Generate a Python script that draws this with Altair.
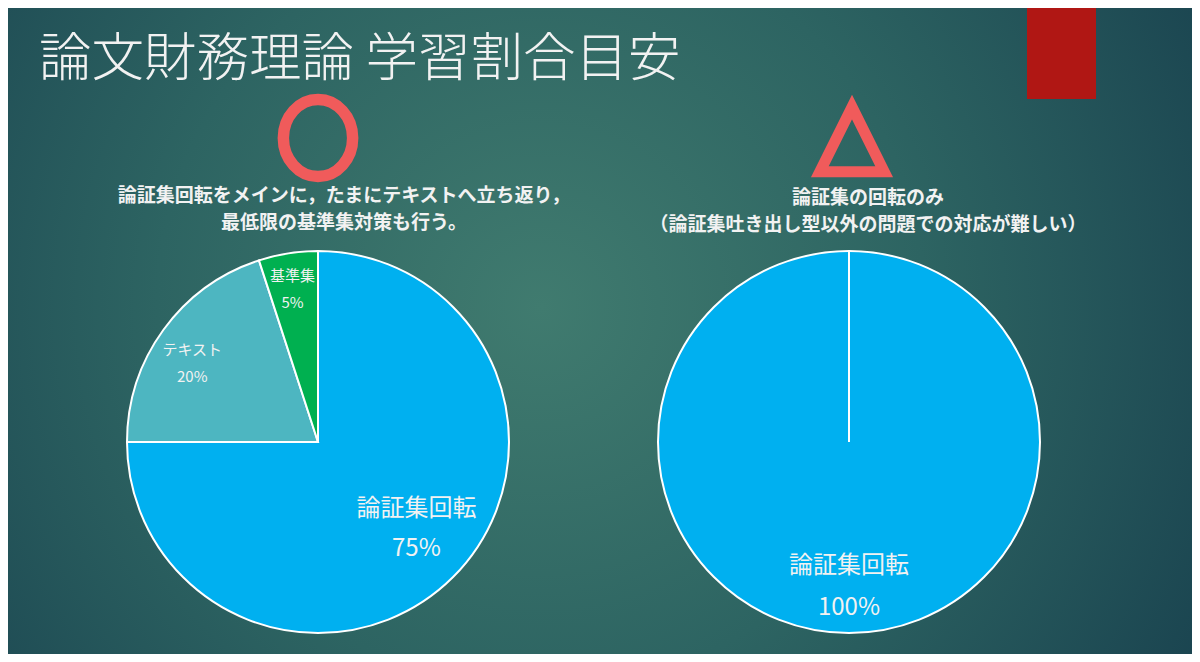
import altair as alt
import pandas as pd

# ---- data ----
left_cats = ["論証集回転", "テキスト", "基準集"]
left_shares = [75, 20, 5]
right_cats = ["論証集回転"]
right_shares = [100]

title_text = "論文財務理論 学習割合目安"
left_note = "論証集回転をメインに，たまにテキストへ立ち返り，\n最低限の基準集対策も行う。"
right_note = "論証集の回転のみ\n（論証集吐き出し型以外の問題での対応が難しい）"

# ---- layout / style ----
W, H = 1184, 646
FONT = "Noto Sans CJK JP"
R = 191
CY = 434
LCX, RCX = 310, 841
TXT = "#F2F2F2"
SYM = "#F05B5B"

color_scale = alt.Scale(domain=["論証集回転", "テキスト", "基準集"],
                        range=["#00B0F0", "#4DB6C1", "#00B050"])

one = pd.DataFrame({"k": [0]})

bg = alt.Chart(one).mark_rect(
    fill={"gradient": "radial",
          "x1": 0.45, "y1": 0.48, "r1": 0,
          "x2": 0.45, "y2": 0.48, "r2": 0.72,
          "stops": [{"offset": 0, "color": "#407B6F"},
                    {"offset": 0.45, "color": "#2D6462"},
                    {"offset": 1, "color": "#153B4B"}]}
).encode(x=alt.value(0), x2=alt.value(W), y=alt.value(0), y2=alt.value(H))

red_box = alt.Chart(one).mark_rect(fill="#B01714").encode(
    x=alt.value(1019), x2=alt.value(1088), y=alt.value(0), y2=alt.value(91))

title = alt.Chart(one).mark_text(
    text=title_text, font=FONT, fontSize=52.5, fontWeight=300, color=TXT,
    align="left", baseline="middle"
).encode(x=alt.value(31), y=alt.value(52))

circle_sym = alt.Chart(one).mark_point(
    shape="M0,-1 A0.9,1 0 1,1 0,1 A0.9,1 0 1,1 0,-1 Z",
    size=5929, filled=False, stroke=SYM, strokeWidth=11.5, opacity=1
).encode(x=alt.value(310), y=alt.value(130))

tri_sym = alt.Chart(one).mark_point(
    shape="M0,-1 L0.92,0.85 L-0.92,0.85 Z",
    size=4900, filled=False, stroke=SYM, strokeWidth=11, opacity=1,
    strokeJoin="miter"
).encode(x=alt.value(844), y=alt.value(134))

note_l = alt.Chart(one).mark_text(
    text=left_note, lineBreak="\n", lineHeight=27, font=FONT, fontSize=19,
    fontWeight="bold", color=TXT, align="center", baseline="middle"
).encode(x=alt.value(336), y=alt.value(188))

note_r = alt.Chart(one).mark_text(
    text=right_note, lineBreak="\n", lineHeight=27, font=FONT, fontSize=19,
    fontWeight="bold", color=TXT, align="center", baseline="middle"
).encode(x=alt.value(860), y=alt.value(190))

left_df = pd.DataFrame({"cat": left_cats, "share": left_shares,
                        "idx": list(range(len(left_cats)))})
right_df = pd.DataFrame({"cat": right_cats, "share": right_shares,
                         "idx": list(range(len(right_cats)))})


def pie(df, cx):
    return alt.Chart(df).mark_arc(
        outerRadius=R, stroke="white", strokeWidth=2
    ).encode(
        theta=alt.Theta("share:Q", stack=True),
        color=alt.Color("cat:N", scale=color_scale, legend=None),
        order=alt.Order("idx:Q"),
        x=alt.value(cx), y=alt.value(CY),
    )


def label(df, cat, cx, radius, size, lh, dx, dy):
    return alt.Chart(df).transform_joinaggregate(
        total="sum(share)"
    ).transform_window(
        cum="sum(share)", sort=[alt.SortField("idx")], frame=[None, 0]
    ).transform_calculate(
        mid="(datum.cum - datum.share / 2) / datum.total * 2 * PI",
        label="datum.cat + '\\n' + datum.share + '%'",
    ).transform_filter(
        alt.datum.cat == cat
    ).mark_text(
        radius=radius, fontSize=size, lineHeight=lh, lineBreak="\n",
        dx=dx, dy=dy, color=TXT, font=FONT, align="center", baseline="middle"
    ).encode(
        x=alt.value(cx), y=alt.value(CY),
        theta=alt.Theta("mid:Q", scale=None),
        text="label:N",
    )


right_line = alt.Chart(one).mark_rule(color="white", strokeWidth=2).encode(
    x=alt.value(RCX), y=alt.value(CY - R), y2=alt.value(CY))

chart = alt.layer(
    bg, red_box, title, circle_sym, tri_sym, note_l, note_r,
    pie(left_df, LCX), pie(right_df, RCX), right_line,
    label(left_df, "論証集回転", LCX, 142, 24, 40, -2, -33),
    label(left_df, "テキスト", LCX, 148, 15, 27, -6, -5),
    label(left_df, "基準集", LCX, 156, 15, 27, -1, -12),
    label(right_df, "論証集回転", RCX, 147, 24, 42, 0, -23),
).resolve_scale(theta="independent").properties(
    width=W, height=H, padding=0, autosize="none", background="#1B4550"
).configure_view(stroke=None)

chart.save("out.html", embed_options={"renderer": "svg", "actions": False})
